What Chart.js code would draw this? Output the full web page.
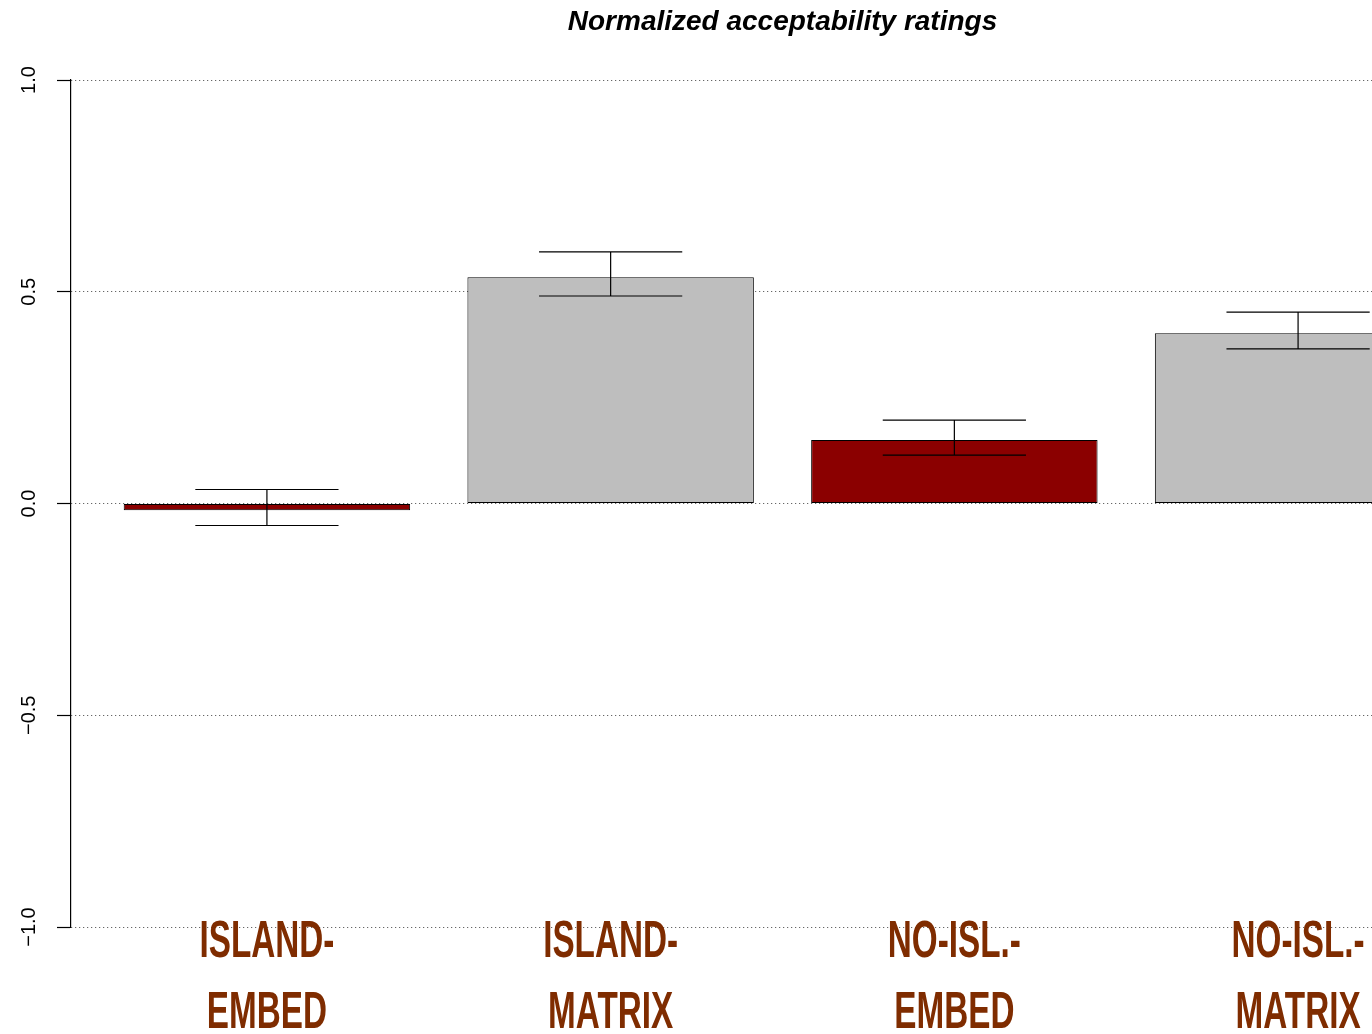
<!DOCTYPE html>
<html>
<head>
<meta charset="utf-8">
<title>Normalized acceptability ratings</title>
<script src="https://cdn.jsdelivr.net/npm/chart.js@4/dist/chart.umd.min.js"></script>
<style>
  html, body { margin: 0; padding: 0; background: #fff; overflow: hidden; }
  #wrap { position: relative; width: 1500px; height: 1034px; }
</style>
</head>
<body>
<div id="wrap"><canvas id="chart"></canvas></div>
<script>
// categories and bar positions (R barplot: width 1, space 0.2)
const conditions = [
  ['ISLAND-', 'EMBED'],
  ['ISLAND-', 'MATRIX'],
  ['NO-ISL.-', 'EMBED'],
  ['NO-ISL.-', 'MATRIX'],
];
const barPos = [0.7, 1.9, 3.1, 4.3];

// mean ratings and error bar ends
const means = [-0.016, 0.534, 0.150, 0.402];
const errHigh = [0.033, 0.594, 0.197, 0.452];
const errLow = [-0.052, 0.490, 0.114, 0.365];

const barColors = ['#8b0000', '#bebebe', '#8b0000', '#bebebe'];

const yTicks = [-1, -0.5, 0, 0.5, 1];
const yTickLabels = ['\u22121.0', '\u22120.5', '0.0', '0.5', '1.0'];

// error bars: vertical segment + caps half a bar wide
const errorBars = {
  id: 'errorBars',
  afterDatasetsDraw(chart) {
    const { ctx, scales: { x, y } } = chart;
    ctx.save();
    ctx.strokeStyle = '#000';
    ctx.lineWidth = 1.2;
    barPos.forEach((p, i) => {
      const cx = x.getPixelForValue(p);
      const x0 = x.getPixelForValue(p - 0.25);
      const x1 = x.getPixelForValue(p + 0.25);
      const yt = y.getPixelForValue(errHigh[i]);
      const yb = y.getPixelForValue(errLow[i]);
      ctx.beginPath();
      ctx.moveTo(cx, yt); ctx.lineTo(cx, yb);
      ctx.moveTo(x0, yt); ctx.lineTo(x1, yt);
      ctx.moveTo(x0, yb); ctx.lineTo(x1, yb);
      ctx.stroke();
    });
    ctx.restore();
  },
};

// condition names under the bars, squeezed to look like the stencil face
const conditionLabels = {
  id: 'conditionLabels',
  afterDraw(chart) {
    const { ctx, chartArea, scales: { x } } = chart;
    const squeeze = 0.64;
    ctx.save();
    ctx.fillStyle = '#7f2c00';
    ctx.font = 'bold 52px "Liberation Sans", Arial, sans-serif';
    ctx.textAlign = 'center';
    ctx.textBaseline = 'alphabetic';
    barPos.forEach((p, i) => {
      const cx = x.getPixelForValue(p);
      conditions[i].forEach((line, j) => {
        ctx.save();
        ctx.translate(cx, chartArea.bottom + 30 + j * 71);
        ctx.scale(squeeze, 1);
        ctx.fillText(line, 0, 0);
        ctx.restore();
      });
    });
    ctx.restore();
  },
};

new Chart(document.getElementById('chart'), {
  type: 'bar',
  data: {
    labels: conditions.map(c => c.join('')),
    datasets: [{
      data: barPos.map((p, i) => ({ x: p, y: means[i] })),
      backgroundColor: barColors,
      borderColor: '#000',
      borderWidth: 1,
      borderSkipped: false,
      categoryPercentage: 1,
      barPercentage: 1 / 1.2,
    }],
  },
  options: {
    responsive: true,
    maintainAspectRatio: false,
    animation: false,
    layout: { padding: { left: 0, right: 6, top: 0, bottom: 0 } },
    plugins: {
      legend: { display: false },
      tooltip: { enabled: false },
      title: {
        display: true,
        fullSize: false,
        text: 'Normalized acceptability ratings',
        color: '#000',
        font: { family: 'Liberation Sans, Arial, sans-serif', size: 28, weight: 'bold', style: 'italic', lineHeight: 1.2 },
        padding: { top: 5, bottom: 41.4 },
      },
    },
    scales: {
      x: {
        type: 'linear',
        offset: false,
        min: 0.016,
        max: 4.984,
        afterBuildTicks: scale => { scale.ticks = barPos.map(v => ({ value: v })); },
        afterFit: scale => { scale.height = 107; },
        ticks: { display: false },
        grid: { display: false, drawTicks: false, offset: false },
        border: { display: false },
      },
      y: {
        min: -1,
        max: 1,
        afterBuildTicks: scale => { scale.ticks = yTicks.map(v => ({ value: v })); },
        afterFit: scale => { scale.width = 71; },
        ticks: {
          minRotation: 90,
          maxRotation: 90,
          crossAlign: 'center',
          padding: 8,
          color: '#000',
          font: { family: 'Liberation Sans, Arial, sans-serif', size: 20 },
          callback: v => yTickLabels[yTicks.indexOf(v)],
        },
        grid: {
          color: '#444',
          lineWidth: 1,
          tickLength: 14,
          tickColor: '#000',
          tickWidth: 1.2,
        },
        border: { display: true, color: '#000', width: 1.2, dash: [1, 3] },
      },
    },
  },
  plugins: [errorBars, conditionLabels],
});
</script>
</body>
</html>
